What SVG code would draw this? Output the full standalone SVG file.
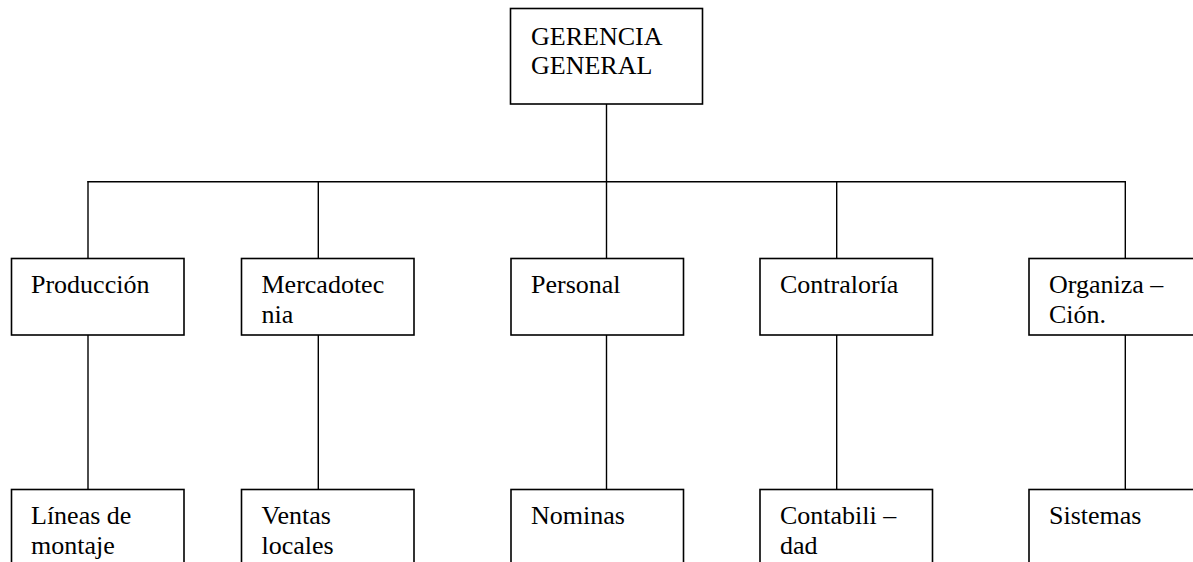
<svg xmlns="http://www.w3.org/2000/svg" width="1193" height="562" viewBox="0 0 1193 562">
<style>
  .box { fill: #ffffff; stroke: #000000; stroke-width: 1.6; }
  .conn line { stroke: #000000; stroke-width: 1.4; }
  text { font-family: "Liberation Serif", "Times New Roman", serif; font-size: 26px; fill: #000000; }
</style>
<rect x="0" y="0" width="1193" height="562" fill="#ffffff"/>
<g id="connectors" class="conn">
  <line x1="606.5" y1="104" x2="606.5" y2="181.7"/>
  <line x1="87.5" y1="181.7" x2="1125.5" y2="181.7"/>
  <line x1="88" y1="181" x2="88" y2="258.5"/>
  <line x1="318.3" y1="181" x2="318.3" y2="258.5"/>
  <line x1="606.5" y1="181" x2="606.5" y2="258.5"/>
  <line x1="836.7" y1="181" x2="836.7" y2="258.5"/>
  <line x1="1125.3" y1="181" x2="1125.3" y2="258.5"/>
  <line x1="88" y1="335" x2="88" y2="489.5"/>
  <line x1="318.3" y1="335" x2="318.3" y2="489.5"/>
  <line x1="606.5" y1="335" x2="606.5" y2="489.5"/>
  <line x1="836.7" y1="335" x2="836.7" y2="489.5"/>
  <line x1="1125.3" y1="335" x2="1125.3" y2="489.5"/>
</g>
<g id="gerencia">
  <rect class="box" x="510.5" y="8.5" width="192" height="95.5"/>
  <text x="531" y="45">GERENCIA</text>
  <text x="531" y="74">GENERAL</text>
</g>
<g id="produccion">
  <rect class="box" x="11.5" y="258.5" width="172.5" height="76.5"/>
  <text x="31" y="293.3">Producción</text>
</g>
<g id="mercadotecnia">
  <rect class="box" x="241.5" y="258.5" width="172.5" height="76.5"/>
  <text x="261.5" y="293.3">Mercadotec</text>
  <text x="261.5" y="323.3">nia</text>
</g>
<g id="personal">
  <rect class="box" x="511" y="258.5" width="172.5" height="76.5"/>
  <text x="531" y="293.3">Personal</text>
</g>
<g id="contraloria">
  <rect class="box" x="760" y="258.5" width="172.5" height="76.5"/>
  <text x="780" y="293.3">Contraloría</text>
</g>
<g id="organizacion">
  <rect class="box" x="1029" y="258.5" width="172.5" height="76.5"/>
  <text x="1049" y="293.3">Organiza –</text>
  <text x="1049" y="323.3">Ción.</text>
</g>
<g id="lineas">
  <rect class="box" x="11.5" y="489.5" width="172.5" height="100"/>
  <text x="31" y="524">Líneas de</text>
  <text x="31" y="554">montaje</text>
</g>
<g id="ventas">
  <rect class="box" x="241.5" y="489.5" width="172.5" height="100"/>
  <text x="261.5" y="524">Ventas</text>
  <text x="261.5" y="554">locales</text>
</g>
<g id="nominas">
  <rect class="box" x="511" y="489.5" width="172.5" height="100"/>
  <text x="531" y="524">Nominas</text>
</g>
<g id="contabilidad">
  <rect class="box" x="760" y="489.5" width="172.5" height="100"/>
  <text x="780" y="524">Contabili –</text>
  <text x="780" y="554">dad</text>
</g>
<g id="sistemas">
  <rect class="box" x="1029" y="489.5" width="172.5" height="100"/>
  <text x="1049" y="524">Sistemas</text>
</g>
</svg>
